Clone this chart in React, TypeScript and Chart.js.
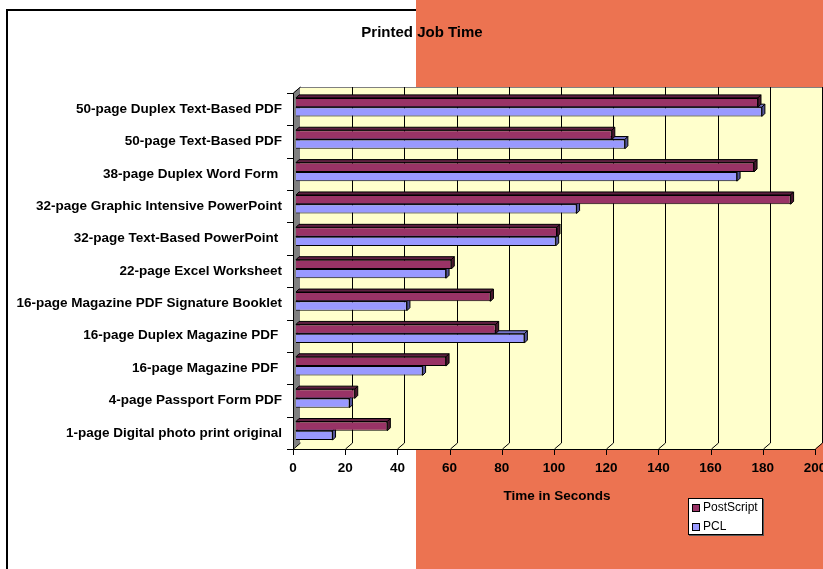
import React, { useEffect, useRef } from "react";
import { Chart, registerables } from "chart.js";

Chart.register(...registerables);

const categories = [
  "50-page Duplex Text-Based PDF",
  "50-page Text-Based PDF",
  "38-page Duplex Word Form ",
  "32-page Graphic Intensive PowerPoint",
  "32-page Text-Based PowerPoint ",
  "22-page Excel Worksheet",
  "16-page Magazine PDF Signature Booklet",
  "16-page Duplex Magazine PDF ",
  "16-page Magazine PDF ",
  "4-page Passport Form PDF",
  "1-page Digital photo print original",
];
const postScript = [177, 121, 175.5, 189.5, 100, 59.5, 74.5, 76.5, 57.5, 22.5, 35];
const pcl = [178.5, 126, 169, 107.5, 99.5, 57.5, 42.5, 87.5, 48.5, 20.5, 14];
const xTicks = [0, 20, 40, 60, 80, 100, 120, 140, 160, 180, 200];
const seriesNames = ["PostScript", "PCL"];

const FONT = "'Liberation Sans', Arial, sans-serif";
const ORANGE = "#EC7351";
const WALL = "#FFFFCC";
const SIDE = "#808080";
const FRONT = { dx: -3, dy: 2 };
const BACK = { dx: 4, dy: -4 };
const BAR_D = 3;
const faceColors = [
  { top: "#5E1F40", side: "#4A1830" },
  { top: "#7575C8", side: "#55559A" },
];

const scenePlugin = {
  id: "scene3d",
  afterLayout(chart: any) {
    const tb = chart.titleBlock;
    if (tb) {
      tb.left = 26;
      tb.right = chart.chartArea.right;
      tb.width = tb.right - tb.left;
    }
  },
  beforeDraw(chart: any) {
    const { ctx, width, height } = chart;
    ctx.save();
    ctx.fillStyle = "#ffffff";
    ctx.fillRect(0, 0, width, height);
    ctx.strokeStyle = "#000";
    ctx.lineWidth = 2;
    ctx.beginPath();
    ctx.moveTo(7, height);
    ctx.lineTo(7, 10);
    ctx.lineTo(width, 10);
    ctx.stroke();
    ctx.fillStyle = ORANGE;
    ctx.fillRect(416, 0, width - 416, height);
    ctx.restore();
  },
  beforeDatasetsDraw(chart: any) {
    const { ctx, chartArea: a, scales } = chart;
    const xs = scales.x;
    const fl = a.left + FRONT.dx, fr = a.right + FRONT.dx;
    const ft = a.top + FRONT.dy, fb = a.bottom + FRONT.dy;
    const bl = a.left + BACK.dx, br = a.right + BACK.dx;
    const bt = a.top + BACK.dy, bb = a.bottom + BACK.dy;
    ctx.save();
    // back wall
    ctx.fillStyle = WALL;
    ctx.fillRect(bl, bt, br - bl, bb - bt);
    // floor
    ctx.beginPath();
    ctx.moveTo(fl, fb);
    ctx.lineTo(fr, fb);
    ctx.lineTo(br, bb);
    ctx.lineTo(bl, bb);
    ctx.closePath();
    ctx.fill();
    // side wall
    ctx.fillStyle = SIDE;
    ctx.beginPath();
    ctx.moveTo(fl, ft);
    ctx.lineTo(bl, bt);
    ctx.lineTo(bl, bb);
    ctx.lineTo(fl, fb);
    ctx.closePath();
    ctx.fill();
    // wall top border
    ctx.strokeStyle = "#808080";
    ctx.lineWidth = 1;
    ctx.beginPath();
    ctx.moveTo(bl, bt + 0.5);
    ctx.lineTo(br, bt + 0.5);
    ctx.stroke();
    // grid lines
    ctx.strokeStyle = "#000";
    for (const v of xTicks) {
      const p = xs.getPixelForValue(v);
      const xf = Math.round(p + FRONT.dx) + 0.5;
      const xb = Math.round(p + BACK.dx) + 0.5;
      ctx.beginPath();
      if (v !== 0) {
        ctx.moveTo(xb, bt);
        ctx.lineTo(xb, bb);
      } else {
        ctx.moveTo(xb, bb);
      }
      ctx.lineTo(xf, fb);
      ctx.lineTo(xf, fb + 6);
      ctx.stroke();
    }
    // front edges
    ctx.beginPath();
    ctx.moveTo(Math.round(bl) + 0.5, bt);
    ctx.lineTo(Math.round(fl) + 0.5, ft);
    ctx.lineTo(Math.round(fl) + 0.5, fb + 0.5);
    ctx.lineTo(fr, fb + 0.5);
    ctx.stroke();
    // category ticks
    const n = categories.length;
    const band = (a.bottom - a.top) / n;
    for (let i = 0; i <= n; i++) {
      const yy = Math.round(a.top + i * band + FRONT.dy) + 0.5;
      ctx.beginPath();
      ctx.moveTo(fl - 6, yy);
      ctx.lineTo(fl, yy);
      ctx.stroke();
    }
    // bar depth faces (PCL first, then PostScript)
    for (let di = chart.data.datasets.length - 1; di >= 0; di--) {
      const meta = chart.getDatasetMeta(di);
      const col = faceColors[di];
      for (const el of meta.data) {
        const { x, y, base, height } = el.getProps(["x", "y", "base", "height"], true);
        const left = Math.min(x, base);
        const right = Math.max(x, base);
        const top = y - height / 2;
        const bottom = y + height / 2;
        ctx.fillStyle = col.top;
        ctx.beginPath();
        ctx.moveTo(left, top);
        ctx.lineTo(left + BAR_D, top - BAR_D);
        ctx.lineTo(right + BAR_D, top - BAR_D);
        ctx.lineTo(right, top);
        ctx.closePath();
        ctx.fill();
        ctx.stroke();
        ctx.fillStyle = col.side;
        ctx.beginPath();
        ctx.moveTo(right, top);
        ctx.lineTo(right + BAR_D, top - BAR_D);
        ctx.lineTo(right + BAR_D, bottom - BAR_D);
        ctx.lineTo(right, bottom);
        ctx.closePath();
        ctx.fill();
        ctx.stroke();
      }
    }
    ctx.restore();
  },
  afterDraw(chart: any) {
    const { ctx } = chart;
    const lx = 688, ly = 498, lw = 75, lh = 37;
    ctx.save();
    ctx.fillStyle = "#555";
    ctx.fillRect(lx + 1, ly + 1, lw, lh);
    ctx.fillStyle = "#fff";
    ctx.fillRect(lx, ly, lw, lh);
    ctx.strokeStyle = "#000";
    ctx.lineWidth = 1;
    ctx.strokeRect(lx + 0.5, ly + 0.5, lw - 1, lh - 1);
    ctx.font = `12px ${FONT}`;
    ctx.textBaseline = "middle";
    ctx.textAlign = "left";
    chart.data.datasets.forEach((ds: any, i: number) => {
      const cy = ly + 10 + i * 19;
      ctx.fillStyle = ds.backgroundColor;
      ctx.fillRect(lx + 4.5, cy - 3.5, 7, 7);
      ctx.strokeRect(lx + 4.5, cy - 3.5, 7, 7);
      ctx.fillStyle = "#000";
      ctx.fillText(ds.label, lx + 15, cy);
    });
    ctx.restore();
  },
};

export default function App() {
  const canvasRef = useRef<HTMLCanvasElement | null>(null);

  useEffect(() => {
    const canvas = canvasRef.current;
    if (!canvas) return;
    const chart = new Chart(canvas, {
      type: "bar",
      data: {
        labels: categories,
        datasets: [
          {
            label: seriesNames[0],
            data: postScript,
            backgroundColor: "#993366",
            borderColor: "#000",
            borderWidth: 1,
            categoryPercentage: 0.575,
            barPercentage: 1,
          },
          {
            label: seriesNames[1],
            data: pcl,
            backgroundColor: "#9999FF",
            borderColor: "#000",
            borderWidth: 1,
            categoryPercentage: 0.575,
            barPercentage: 1,
          },
        ],
      },
      options: {
        indexAxis: "y",
        responsive: false,
        animation: false,
        devicePixelRatio: 1,
        layout: { padding: { left: 0, right: 5, top: 0, bottom: 0 } },
        plugins: {
          legend: { display: false },
          tooltip: { enabled: false },
          title: {
            display: true,
            text: "Printed Job Time",
            color: "#000",
            font: { family: FONT, size: 15, weight: "bold" },
            padding: { top: 24, bottom: 49 },
          },
        },
        scales: {
          x: {
            type: "linear",
            min: 0,
            max: 200,
            afterBuildTicks: (s: any) => {
              s.ticks = xTicks.map((v) => ({ value: v }));
            },
            afterFit: (s: any) => {
              s.height = 122;
              s.paddingLeft = 0;
              s.paddingRight = 0;
            },
            grid: { display: false, drawTicks: false },
            border: { display: false },
            ticks: {
              color: "#000",
              font: { family: FONT, size: 13.5, weight: "bold" },
              padding: 13,
              labelOffset: -3,
              maxRotation: 0,
              autoSkip: false,
            },
            title: {
              display: true,
              text: "Time in Seconds",
              color: "#000",
              font: { family: FONT, size: 13.5, weight: "bold" },
              padding: { top: 0, bottom: 65 },
            },
          },
          y: {
            type: "category",
            afterFit: (s: any) => {
              s.width = 296;
              s.paddingTop = 0;
              s.paddingBottom = 0;
            },
            grid: { display: false, drawTicks: false },
            border: { display: false },
            ticks: {
              color: "#000",
              font: { family: FONT, size: 13.5, weight: "bold" },
              padding: 14,
              labelOffset: 2,
              autoSkip: false,
            },
          },
        },
      },
      plugins: [scenePlugin],
    });
    return () => chart.destroy();
  }, []);

  return (
    <div style={{ position: "absolute", left: 0, top: 0, width: 823, height: 569 }}>
      <canvas ref={canvasRef} width={823} height={569} style={{ display: "block" }} />
    </div>
  );
}
